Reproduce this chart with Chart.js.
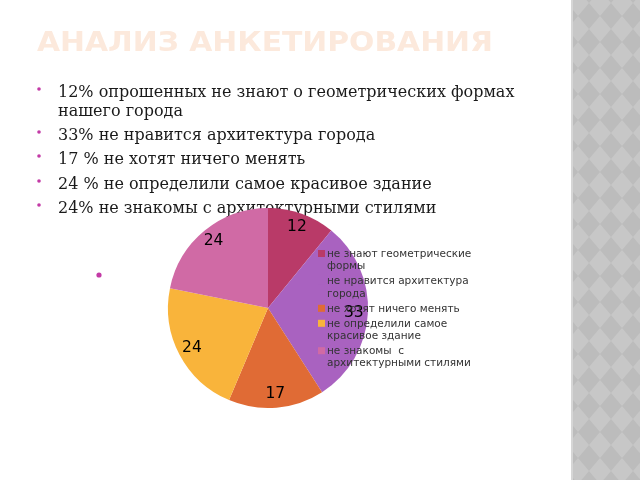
<!DOCTYPE html>
<html><head><meta charset="utf-8">
<script src="https://cdn.jsdelivr.net/npm/chart.js@4/dist/chart.umd.min.js"></script>
<style>html,body{margin:0;padding:0;background:#fff}#wrap{width:640px;height:480px;position:relative}</style>
</head><body><div id="wrap"><canvas id="c" width="640" height="480"></canvas></div>
<script>
const titleText = "АНАЛИЗ АНКЕТИРОВАНИЯ";
const bulletLines = [
  ["12% опрошенных не знают о геометрических формах", "нашего города"],
  ["33% не нравится архитектура города"],
  ["17 % не хотят ничего менять"],
  ["24 % не определили самое красивое здание"],
  ["24% не знакомы с архитектурными стилями"]
];
const categories = [
  "не знают геометрические формы",
  "не нравится архитектура города",
  "не хотят ничего менять",
  "не определили самое красивое здание",
  "не знакомы  с архитектурными стилями"
];
const legendLines = [
  ["не знают геометрические", "формы"],
  ["не нравится архитектура", "города"],
  ["не хотят ничего менять"],
  ["не определили самое", "красивое здание"],
  ["не знакомы  с", "архитектурными стилями"]
];
const values = [12, 33, 17, 24, 24];
const sliceColors = ["#b93a68", "#a962c0", "#e06b35", "#f9b43b", "#d06aa5"];

const slidePlugin = {
  id: 'slide',
  beforeDraw(chart) {
    const ctx = chart.ctx;
    ctx.save();
    ctx.fillStyle = '#ffffff';
    ctx.fillRect(0, 0, 640, 480);
    // patterned strip
    const sx = 571;
    ctx.fillStyle = '#bcbcbc';
    ctx.fillRect(sx, 0, 640 - sx, 480);
    ctx.save();
    ctx.beginPath(); ctx.rect(sx + 2, 0, 640 - sx - 2, 480); ctx.clip();
    ctx.fillStyle = '#c7c7c7';
    const hw = 11, hh = 13;
    for (let j = -1; j < 20; j++) {
      for (let i = -1; i < 5; i++) {
        const cx = 578 + i * 2 * hw;
        const cy = 3 + j * 2 * hh;
        ctx.beginPath();
        ctx.moveTo(cx, cy - hh); ctx.lineTo(cx + hw, cy); ctx.lineTo(cx, cy + hh); ctx.lineTo(cx - hw, cy);
        ctx.closePath(); ctx.fill();
      }
    }
    ctx.restore();
    ctx.fillStyle = '#d6d6d6';
    ctx.fillRect(sx, 0, 2, 480);
    // title
    ctx.fillStyle = '#fce9dc';
    ctx.font = 'bold 27px "DejaVu Sans"';
    ctx.textBaseline = 'alphabetic';
    const tw = ctx.measureText(titleText).width;
    ctx.save();
    ctx.translate(37, 51);
    ctx.scale(456 / tw, 1);
    ctx.fillText(titleText, 0, 0);
    ctx.restore();
    // bullets
    ctx.font = '16px "DejaVu Serif"';
    const baselines = [[97, 116], [140], [164], [189], [213]];
    bulletLines.forEach((lines, k) => {
      ctx.fillStyle = '#c33aa6';
      ctx.beginPath(); ctx.arc(39, baselines[k][0] - 8, 1.8, 0, Math.PI * 2); ctx.fill();
      ctx.fillStyle = '#1a1a1a';
      lines.forEach((t, m) => ctx.fillText(t, 58, baselines[k][m]));
    });
    ctx.fillStyle = '#c33aa6';
    ctx.beginPath(); ctx.arc(99, 275, 2.6, 0, Math.PI * 2); ctx.fill();
    ctx.restore();
  },
  afterDatasetsDraw(chart) {
    const ctx = chart.ctx;
    ctx.save();
    // data labels
    const meta = chart.getDatasetMeta(0);
    ctx.font = '15.5px "DejaVu Sans"';
    ctx.fillStyle = '#000';
    ctx.textAlign = 'center';
    ctx.textBaseline = 'middle';
    meta.data.forEach((arc, i) => {
      const a = (arc.startAngle + arc.endAngle) / 2;
      const r = arc.outerRadius * 0.86;
      ctx.fillText(String(values[i]), arc.x + Math.cos(a) * r, arc.y + Math.sin(a) * r);
    });
    // legend
    ctx.textAlign = 'left';
    ctx.font = '10.5px "DejaVu Sans"';
    let y = 254;
    legendLines.forEach((lines, i) => {
      ctx.fillStyle = sliceColors[i];
      ctx.fillRect(318, y - 4, 7, 7);
      ctx.fillStyle = '#333333';
      lines.forEach((t) => {
        ctx.fillText(t, 327, y);
        y += 12.4;
      });
      y += 2.6;
    });
    ctx.restore();
  }
};

new Chart(document.getElementById('c'), {
  type: 'pie',
  data: {
    labels: categories,
    datasets: [{ data: values, backgroundColor: sliceColors, borderWidth: 0 }]
  },
  options: {
    responsive: false,
    animation: false,
    layout: { padding: { left: 168, right: 272, top: 208, bottom: 72 } },
    plugins: { legend: { display: false }, tooltip: { enabled: false }, title: { display: false } }
  },
  plugins: [slidePlugin]
});
</script>
</body></html>
